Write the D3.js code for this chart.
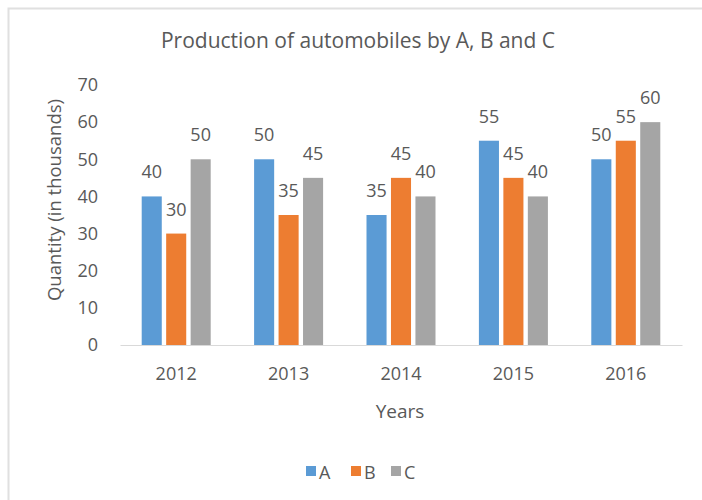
<!DOCTYPE html>
<html>
<head>
<meta charset="utf-8">
<script src="https://cdn.jsdelivr.net/npm/d3@7"></script>
<style>
  body { margin: 0; background: #fff; }
  text { font-family: "Open Sans", sans-serif; fill: #595959; }
</style>
</head>
<body>
<div id="chart"></div>
<script>
const years = ["2012", "2013", "2014", "2015", "2016"];
const seriesNames = ["A", "B", "C"];
const valuesA = [40, 50, 35, 55, 50];
const valuesB = [30, 35, 45, 45, 55];
const valuesC = [50, 45, 40, 40, 60];
const yTicks = [0, 10, 20, 30, 40, 50, 60, 70];
const colors = ["#5B9BD5", "#ED7D31", "#A5A5A5"];

const allValues = [valuesA, valuesB, valuesC];

const svg = d3.select("#chart")
    .append("svg")
    .attr("width", 702)
    .attr("height", 500);

// outer frame
svg.append("rect")
    .attr("x", 8.5).attr("y", 8.5)
    .attr("width", 700).attr("height", 500)
    .attr("fill", "none")
    .attr("stroke", "#e0e0e0")
    .attr("stroke-width", 2);

const x = d3.scaleBand()
    .domain(years)
    .range([120, 682]);

const inner = d3.scaleBand()
    .domain(seriesNames)
    .range([-34.5, 34.5])
    .paddingInner(0.18);

const y = d3.scaleLinear()
    .domain([0, 70])
    .range([345, 85]);

svg.append("text")
    .attr("x", 358).attr("y", 48)
    .attr("text-anchor", "middle")
    .style("font-size", "21px")
    .text("Production of automobiles by A, B and C");

// y axis (labels only)
const yAxis = d3.axisLeft(y).tickValues(yTicks).tickSize(0).tickPadding(0);
const gy = svg.append("g")
    .attr("transform", "translate(98,0)")
    .call(yAxis);
gy.select(".domain").remove();
gy.selectAll("text").style("font-size", "18px").attr("fill", "#595959");

// x axis
const xAxis = d3.axisBottom(x).tickSize(0).tickPadding(22);
const gx = svg.append("g")
    .attr("transform", "translate(0,345)")
    .call(xAxis);
gx.select(".domain").attr("stroke", "#d9d9d9");
gx.selectAll("text").style("font-size", "18px").attr("fill", "#595959");

// bars
seriesNames.forEach(function(s, si) {
    const g = svg.append("g");
    g.selectAll("rect")
        .data(allValues[si])
        .enter()
        .append("rect")
        .attr("x", (d, i) => x(years[i]) + x.bandwidth() / 2 + inner(s))
        .attr("y", d => y(d))
        .attr("width", inner.bandwidth())
        .attr("height", d => y(0) - y(d))
        .attr("fill", colors[si]);
    g.selectAll("text")
        .data(allValues[si])
        .enter()
        .append("text")
        .attr("x", (d, i) => x(years[i]) + x.bandwidth() / 2 + inner(s) + inner.bandwidth() / 2)
        .attr("y", d => y(d) - 18)
        .attr("text-anchor", "middle")
        .style("font-size", "18px")
        .text(d => d);
});

// axis titles
svg.append("text")
    .attr("x", 400).attr("y", 418)
    .attr("text-anchor", "middle")
    .style("font-size", "19px")
    .text("Years");

svg.append("text")
    .attr("transform", "translate(61,200) rotate(-90)")
    .attr("text-anchor", "middle")
    .style("font-size", "18.5px")
    .text("Quantity (in thousands)");

// legend
const legendX = [306, 351, 391];
const legend = svg.append("g");
seriesNames.forEach(function(s, si) {
    legend.append("rect")
        .attr("x", legendX[si]).attr("y", 466)
        .attr("width", 10).attr("height", 10)
        .attr("fill", colors[si]);
    legend.append("text")
        .attr("x", legendX[si] + 13).attr("y", 479)
        .style("font-size", "18px")
        .text(s);
});
</script>
</body>
</html>
